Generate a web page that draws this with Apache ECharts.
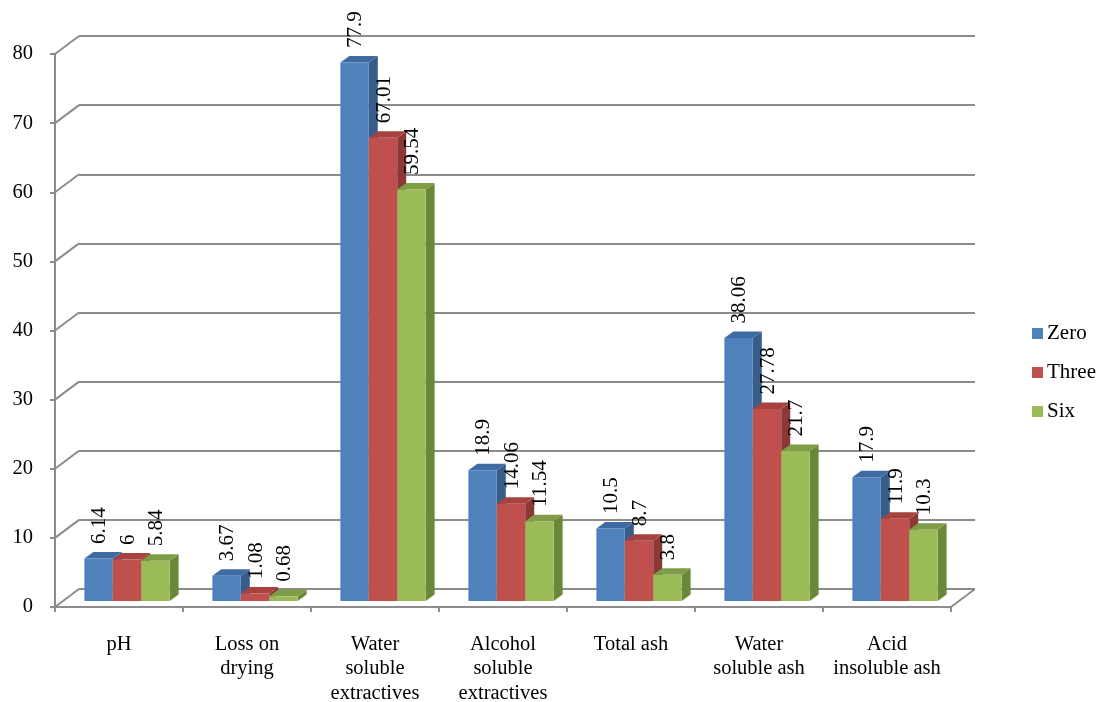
<!DOCTYPE html>
<html>
<head>
<meta charset="utf-8">
<script src="https://cdn.jsdelivr.net/npm/echarts@6/dist/echarts.min.js"></script>
<style>
  html, body { margin: 0; padding: 0; background: #ffffff; }
  #chart { width: 1097px; height: 702px; }
</style>
</head>
<body>
<div id="chart"></div>
<script>
// Category names and per-series measurements
const categories = [
  'pH',
  'Loss on\ndrying',
  'Water\nsoluble\nextractives',
  'Alcohol\nsoluble\nextractives',
  'Total ash',
  'Water\nsoluble ash',
  'Acid\ninsoluble ash'
];
const zeroValues  = [6.14, 3.67, 77.9, 18.9, 10.5, 38.06, 17.9];
const threeValues = [6, 1.08, 67.01, 14.06, 8.7, 27.78, 11.9];
const sixValues   = [5.84, 0.68, 59.54, 11.54, 3.8, 21.7, 10.3];
const seriesNames = ['Zero', 'Three', 'Six'];
const yTicks = [0, 10, 20, 30, 40, 50, 60, 70, 80];

const FONT = '"Liberation Serif", "Times New Roman", serif';
const GRID_GRAY = '#8c8c8c';

// Wall depth (front axis -> back wall) and bar depth, in pixels
const WALL_DX = 24, WALL_DY = 18;
const BAR_DX = 9, BAR_DY = 6.5;
const BASE_DX = 8, BASE_DY = 6; // bars stand a third of the way into the floor

const palette = [
  { front: '#4f81bd', top: '#3e6ba2', side: '#385d8a' },
  { front: '#c0504d', top: '#a6423f', side: '#8c3836' },
  { front: '#9bbb59', top: '#7f9c46', side: '#6b8738' }
];

function barRenderer(seriesIdx) {
  return function (params, api) {
    const cat = api.value(0);
    const val = api.value(1);
    const top = api.coord([cat, val]);
    const base = api.coord([cat, 0]);
    const band = api.size([1, 0])[0];
    const bw = band * 0.222;
    const left = top[0] + BASE_DX - 1.5 * bw + seriesIdx * bw;
    const yTop = top[1] - BASE_DY;
    const yBase = base[1] - BASE_DY;
    const c = palette[seriesIdx];
    return {
      type: 'group',
      children: [
        {
          type: 'polygon',
          shape: { points: [[left + bw, yTop], [left + bw + BAR_DX, yTop - BAR_DY], [left + bw + BAR_DX, yBase - BAR_DY], [left + bw, yBase]] },
          style: { fill: c.side }
        },
        {
          type: 'polygon',
          shape: { points: [[left, yTop], [left + BAR_DX, yTop - BAR_DY], [left + bw + BAR_DX, yTop - BAR_DY], [left + bw, yTop]] },
          style: { fill: c.top }
        },
        {
          type: 'rect',
          shape: { x: left, y: yTop, width: bw, height: yBase - yTop },
          style: { fill: c.front }
        },
        {
          // value label, reading bottom to top
          type: 'text',
          x: left + bw / 2 + 1,
          y: yTop - BAR_DY - 8,
          rotation: Math.PI / 2,
          style: {
            text: String(val),
            font: '21px ' + FONT,
            fill: '#000000',
            align: 'left',
            verticalAlign: 'middle'
          }
        }
      ]
    };
  };
}

function wallRenderer(params, api) {
  const v = api.value(1);
  const p = api.coord([0, v]);
  const x0 = params.coordSys.x;
  const children = [{
    type: 'line',
    shape: { x1: x0, y1: p[1], x2: x0 + WALL_DX, y2: p[1] - WALL_DY },
    style: { stroke: GRID_GRAY, lineWidth: 2 }
  }];
  if (v === 0) {
    const x1 = x0 + params.coordSys.width;
    children.push({
      type: 'line',
      shape: { x1: x1, y1: p[1], x2: x1 + WALL_DX, y2: p[1] - WALL_DY },
      style: { stroke: GRID_GRAY, lineWidth: 2 }
    });
  }
  return { type: 'group', children: children };
}

const valueSets = [zeroValues, threeValues, sixValues];

const chart = echarts.init(document.getElementById('chart'), null, { renderer: 'canvas' });
chart.setOption({
  animation: false,
  backgroundColor: '#ffffff',
  textStyle: { fontFamily: FONT },
  grid: [
    { left: 55, top: 54, width: 896, height: 553, containLabel: false, outerBoundsMode: 'none' },
    { left: 55 + WALL_DX, top: 54 - WALL_DY, width: 896, height: 553, containLabel: false, outerBoundsMode: 'none' }
  ],
  legend: {
    orient: 'vertical',
    left: 1027,
    top: 318,
    itemWidth: 11,
    itemHeight: 11,
    itemGap: 18,
    icon: 'rect',
    data: seriesNames,
    textStyle: { fontFamily: FONT, fontSize: 21, color: '#000000', padding: [0, 0, 0, -1] }
  },
  xAxis: [
    {
      type: 'category',
      gridIndex: 0,
      data: categories,
      axisLine: { lineStyle: { color: GRID_GRAY, width: 2 } },
      axisTick: { show: true, length: 5, lineStyle: { color: GRID_GRAY, width: 2 } },
      axisLabel: {
        interval: 0,
        margin: 25,
        fontFamily: FONT,
        fontSize: 20.5,
        lineHeight: 24.5,
        color: '#000000'
      },
      splitLine: { show: false }
    },
    {
      type: 'category',
      gridIndex: 1,
      data: categories,
      show: false
    }
  ],
  yAxis: [
    {
      type: 'value',
      gridIndex: 0,
      min: 0,
      max: 80,
      interval: 10,
      axisLine: { show: true, lineStyle: { color: GRID_GRAY, width: 2 } },
      axisTick: { show: true, length: 5, lineStyle: { color: GRID_GRAY, width: 2 } },
      axisLabel: { margin: 22, fontFamily: FONT, fontSize: 20.5, color: '#000000', padding: [5, 0, 0, 0] },
      splitLine: { show: false }
    },
    {
      type: 'value',
      gridIndex: 1,
      min: 0,
      max: 80,
      interval: 10,
      axisLine: { show: false },
      axisTick: { show: false },
      axisLabel: { show: false },
      splitLine: { show: true, lineStyle: { color: GRID_GRAY, width: 2 } }
    }
  ],
  series: [
    {
      type: 'custom',
      name: 'wall',
      xAxisIndex: 0,
      yAxisIndex: 0,
      silent: true,
      z: 1,
      renderItem: wallRenderer,
      data: yTicks.map(function (t) { return [0, t]; })
    }
  ].concat(seriesNames.map(function (name, i) {
    return {
      type: 'custom',
      name: name,
      xAxisIndex: 0,
      yAxisIndex: 0,
      z: 5,
      itemStyle: { color: palette[i].front },
      renderItem: barRenderer(i),
      encode: { x: 0, y: 1 },
      data: valueSets[i].map(function (v, k) { return [k, v]; })
    };
  }))
});
</script>
</body>
</html>
